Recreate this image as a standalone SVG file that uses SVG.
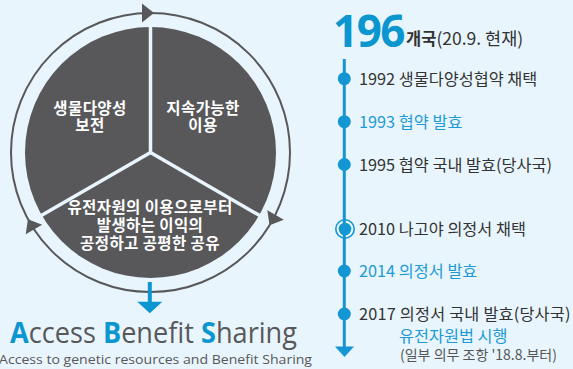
<svg xmlns="http://www.w3.org/2000/svg" width="573" height="369" viewBox="0 0 573 369">
<style>
.kr{font-family:"Noto Sans CJK KR","Noto Sans",sans-serif}
.pie{fill:#fff;font-size:15.5px;font-weight:700;text-anchor:middle;letter-spacing:0.4px}
.tl{font-size:16.3px;fill:#333}
.bl{fill:#1E9AD6}
.dot{fill:#1396D2}
.spoke{stroke:#E8F5FD;stroke-width:3.5}
.ah{fill:#58585A}
</style>
<rect width="573" height="369" fill="#E8F5FD"/>
<g id="cycle">
<circle cx="150.5" cy="152.5" r="139.5" fill="none" stroke="#58585A" stroke-width="2"/>
<polygon class="ah" points="142,3.5 142,22.5 154,13"/>
<polygon class="ah" points="142,3.5 142,22.5 154,13" transform="rotate(120 150.5 152.5)"/>
<polygon class="ah" points="142,3.5 142,22.5 154,13" transform="rotate(240 150.5 152.5)"/>
</g>
<g id="pie">
<circle cx="150.5" cy="152.5" r="125.5" fill="#58585A"/>
<line class="spoke" x1="150.5" y1="152.5" x2="150.5" y2="25"/>
<line class="spoke" x1="150.5" y1="152.5" x2="261" y2="216.3"/>
<line class="spoke" x1="150.5" y1="152.5" x2="40" y2="216.3"/>
</g>
<g id="node-conservation"><text class="kr pie"><tspan x="90" y="113.5">생물다양성</tspan><tspan x="90" y="131">보전</tspan></text></g>
<g id="node-sustainable"><text class="kr pie"><tspan x="203" y="113.5">지속가능한</tspan><tspan x="203" y="131">이용</tspan></text></g>
<g id="node-sharing"><text class="kr pie"><tspan x="150" y="212.5">유전자원의 이용으로부터</tspan><tspan x="150" y="230.5">발생하는 이익의</tspan><tspan x="150" y="248.5">공정하고 공평한 공유</tspan></text></g>
<g id="connectors">
<line x1="149.8" y1="282" x2="149.8" y2="303" stroke="#0B96D0" stroke-width="4"/>
<polygon points="137.3,301.7 162.3,301.7 149.8,313.3" fill="#0B96D0"/>
<line x1="344.3" y1="59" x2="344.3" y2="348" stroke="#1396D2" stroke-width="3"/>
<polygon points="335,346.5 354,346.5 344.5,357" fill="#1396D2"/>
</g>
<g id="abs">
<text x="10" y="342.5" font-family="'Open Sans','Noto Sans',sans-serif" font-size="29" fill="#58585A" textLength="287" lengthAdjust="spacingAndGlyphs"><tspan fill="#0B96D0" font-weight="700">A</tspan>ccess <tspan fill="#0B96D0" font-weight="700">B</tspan>enefit <tspan fill="#0B96D0" font-weight="700">S</tspan>haring</text>
<text x="-1" y="364" font-family="'Open Sans','Noto Sans',sans-serif" font-size="13.5" fill="#58585A" textLength="313" lengthAdjust="spacingAndGlyphs">Access to genetic resources and Benefit Sharing</text>
</g>
<g id="header">
<text x="333" y="47" font-family="'Noto Sans',sans-serif" font-size="44" font-weight="700" fill="#0B96D0" letter-spacing="-1.5">196</text>
<text x="406" y="44.5" class="kr" font-size="16.5" font-weight="700" fill="#333">개국<tspan font-weight="400" font-size="17.5">(20.9. 현재)</tspan></text>
</g>
<g id="event-1992"><circle class="dot" cx="344.3" cy="78.7" r="6.5"/><text class="kr tl" x="359" y="85">1992 생물다양성협약 채택</text></g>
<g id="event-1993"><circle class="dot" cx="344.3" cy="121.7" r="6.5"/><text class="kr tl bl" x="359" y="128">1993 협약 발효</text></g>
<g id="event-1995"><circle class="dot" cx="344.3" cy="164.5" r="6.5"/><text class="kr tl" x="359" y="170.8">1995 협약 국내 발효(당사국)</text></g>
<g id="event-2010"><circle cx="345" cy="229" r="9.2" fill="none" stroke="#1396D2" stroke-width="1.6"/><circle class="dot" cx="345" cy="229" r="6.3"/><text class="kr tl" x="359" y="235.3">2010 나고야 의정서 채택</text></g>
<g id="event-2014"><circle class="dot" cx="344.3" cy="271" r="6.5"/><text class="kr tl bl" x="359" y="277.3">2014 의정서 발효</text></g>
<g id="event-2017"><circle class="dot" cx="344.3" cy="314" r="6.5"/><text class="kr tl" x="359" y="320.3" letter-spacing="0.2">2017 의정서 국내 발효(당사국)</text>
<text class="kr bl" x="399" y="341.5" font-size="16.3">유전자원법 시행</text>
<text class="kr" x="400" y="359.5" font-size="14" fill="#555">(일부 의무 조항 '18.8.부터)</text></g>
</svg>
